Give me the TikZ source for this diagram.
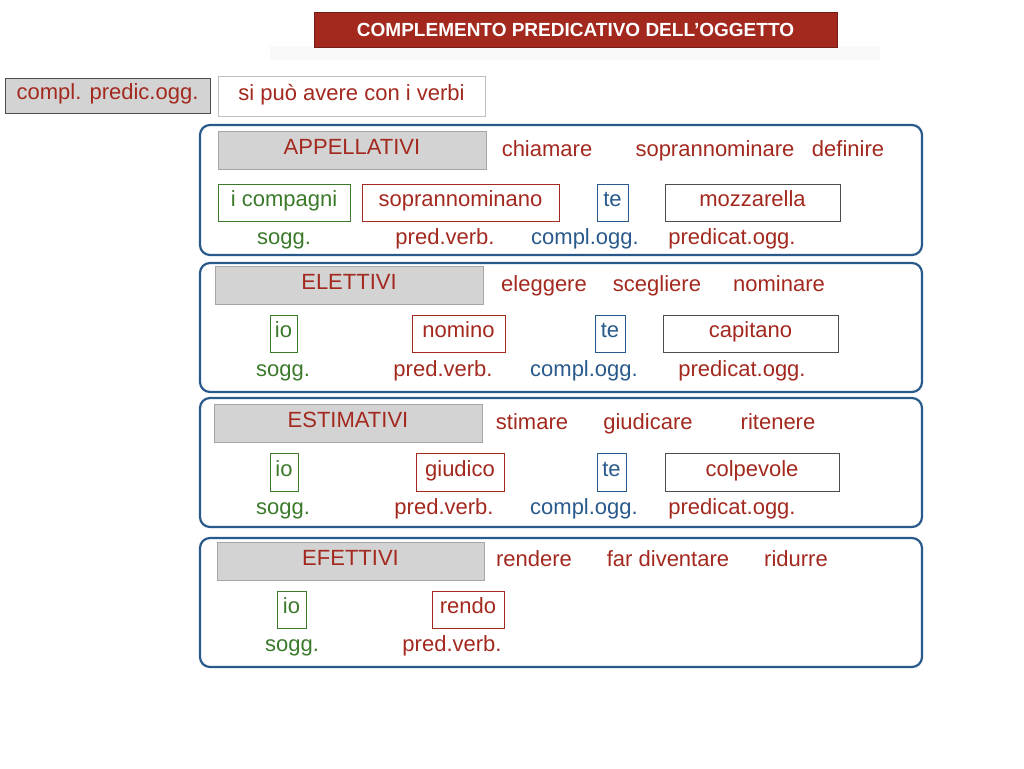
\documentclass[tikz,border=0pt]{standalone}
\usepackage{fontspec}
\setmainfont{Liberation Sans}
\definecolor{dred}{HTML}{A3291F}
\definecolor{dgreen}{HTML}{3B7A2B}
\definecolor{dblue}{HTML}{2A5A8C}
\definecolor{hgray}{HTML}{D3D3D3}
\begin{document}
\begin{tikzpicture}[x=1pt,y=-1pt,
 txt/.style={font=\fontsize{22}{24}\selectfont, inner sep=0pt,text height=14pt,text depth=6pt},
 rtxt/.style={txt,text=dred},
 gtxt/.style={txt,text=dgreen},
 btxt/.style={txt,text=dblue},
 frame/.style={draw=dblue,line width=2.2pt,rounded corners=10pt},
 head/.style={draw=gray!70,fill=hgray,line width=1pt},
 wbox/.style={draw=#1,line width=0.8pt,fill=white}]
\useasboundingbox (0,0) rectangle (1024,768);
% title
\fill[gray!5] (270,46) rectangle (880,60);
\node[fill=dred,draw=dred!70!black,minimum width=523pt,minimum height=35pt,inner sep=0pt,text=white,font=\fontsize{19}{21}\selectfont\bfseries] (title) at (575.5,29.5) {COMPLEMENTO PREDICATIVO DELL’OGGETTO};
\node[head,draw=black!70,minimum width=205pt,minimum height=35pt,rtxt] (cpo) at (107.5,95.5) {compl. predic.ogg.};
\node[wbox=gray!50,minimum width=267pt,minimum height=40pt,rtxt] (spa) at (351.5,96) {si può avere con i verbi};
% frames
\draw[frame] (200,125) rectangle (922,255);
\draw[frame] (200,263) rectangle (922,392);
\draw[frame] (200,398) rectangle (922,527);
\draw[frame] (200,538) rectangle (922,667);
% headers
\node[head,minimum width=268pt,minimum height=38pt,rtxt] (h1) at (352,150) {APPELLATIVI};
\node[head,minimum width=268pt,minimum height=38pt,rtxt] (h2) at (349,285) {ELETTIVI};
\node[head,minimum width=268pt,minimum height=38pt,rtxt] (h3) at (348,423) {ESTIMATIVI};
\node[head,minimum width=267pt,minimum height=38pt,rtxt] (h4) at (350.5,561) {EFETTIVI};
% verbs
\node[rtxt] (v11) at (547,152) {chiamare};
\node[rtxt] (v12) at (715,152) {soprannominare};
\node[rtxt] (v13) at (848,152) {definire};
\node[rtxt] (v21) at (544,287) {eleggere};
\node[rtxt] (v22) at (657,287) {scegliere};
\node[rtxt] (v23) at (779,287) {nominare};
\node[rtxt] (v31) at (532,425) {stimare};
\node[rtxt] (v32) at (648,425) {giudicare};
\node[rtxt] (v33) at (778,425) {ritenere};
\node[rtxt] (v41) at (534,562) {rendere};
\node[rtxt] (v42) at (668,562) {far diventare};
\node[rtxt] (v43) at (796,562) {ridurre};
% row 1
\node[wbox=dgreen,minimum width=132pt,minimum height=37pt,gtxt] (a1) at (284,202.5) {i compagni};
\node[wbox=dred,minimum width=197pt,minimum height=37pt,rtxt] (a2) at (460.5,202.5) {soprannominano};
\node[wbox=dblue,minimum width=31pt,minimum height=37pt,btxt] (a3) at (612.5,202.5) {te};
\node[wbox=black!70,minimum width=175pt,minimum height=37pt,rtxt] (a4) at (752.5,202.5) {mozzarella};
\node[gtxt] (la1) at (284,240) {sogg.};
\node[rtxt] (la2) at (445,240) {pred.verb.};
\node[btxt] (la3) at (585,240) {compl.ogg.};
\node[rtxt] (la4) at (732,240) {predicat.ogg.};
% row 2
\node[wbox=dgreen,minimum width=27pt,minimum height=37pt,gtxt] (b1) at (283.5,333.5) {io};
\node[wbox=dred,minimum width=93pt,minimum height=37pt,rtxt] (b2) at (458.5,333.5) {nomino};
\node[wbox=dblue,minimum width=30pt,minimum height=37pt,btxt] (b3) at (610,333.5) {te};
\node[wbox=black!70,minimum width=175pt,minimum height=37pt,rtxt] (b4) at (750.5,333.5) {capitano};
\node[gtxt] (lb1) at (283,372) {sogg.};
\node[rtxt] (lb2) at (443,372) {pred.verb.};
\node[btxt] (lb3) at (584,372) {compl.ogg.};
\node[rtxt] (lb4) at (742,372) {predicat.ogg.};
% row 3
\node[wbox=dgreen,minimum width=28pt,minimum height=38pt,gtxt] (c1) at (284,472) {io};
\node[wbox=dred,minimum width=88pt,minimum height=38pt,rtxt] (c2) at (460,472) {giudico};
\node[wbox=dblue,minimum width=29pt,minimum height=38pt,btxt] (c3) at (611.5,472) {te};
\node[wbox=black!70,minimum width=174pt,minimum height=38pt,rtxt] (c4) at (752,472) {colpevole};
\node[gtxt] (lc1) at (283,510) {sogg.};
\node[rtxt] (lc2) at (444,510) {pred.verb.};
\node[btxt] (lc3) at (584,510) {compl.ogg.};
\node[rtxt] (lc4) at (732,510) {predicat.ogg.};
% row 4
\node[wbox=dgreen,minimum width=29pt,minimum height=37pt,gtxt] (d1) at (291.5,609.5) {io};
\node[wbox=dred,minimum width=72pt,minimum height=37pt,rtxt] (d2) at (468,609.5) {rendo};
\node[gtxt] (ld1) at (292,647) {sogg.};
\node[rtxt] (ld2) at (452,647) {pred.verb.};
\end{tikzpicture}
\end{document}
